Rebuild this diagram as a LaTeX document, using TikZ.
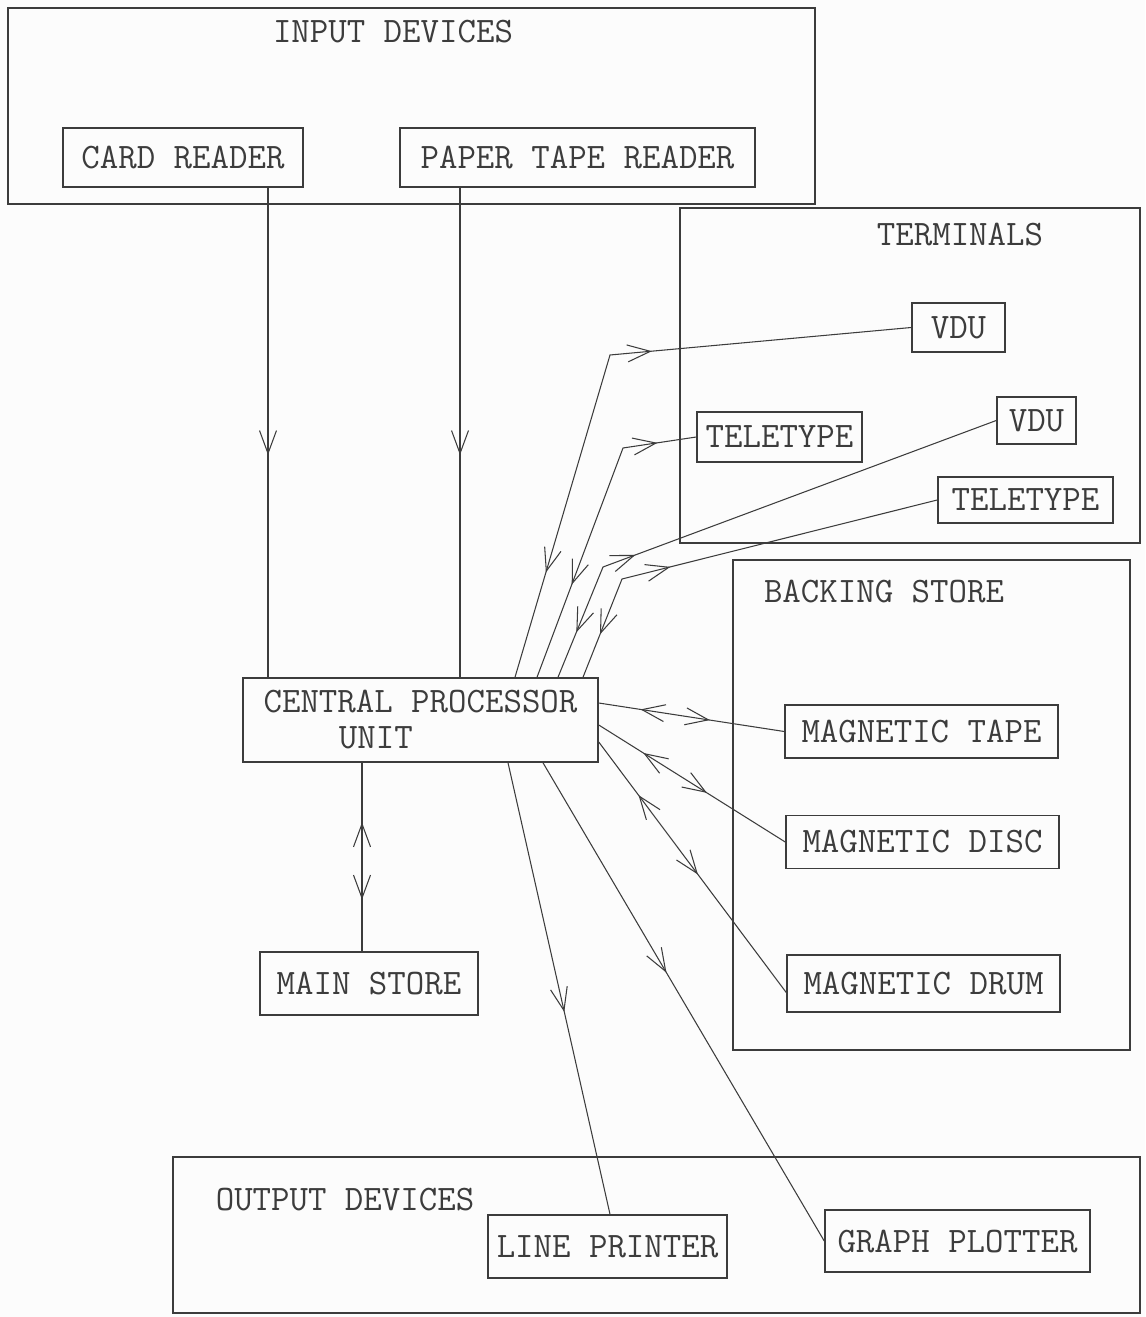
\documentclass[tikz,border=0pt]{standalone}
\usepackage{fontspec}
\usepackage{tikz}
\usetikzlibrary{arrows.meta,decorations.markings}

\definecolor{ink}{HTML}{3C3C3C}
\definecolor{paper}{HTML}{FCFCFC}
\newcommand{\typed}{\fontsize{20.4}{20.5}\selectfont\ttfamily}

\tikzset{
  openv/.tip={Straight Barb[length=0.46cm,width=0.34cm]},
  unit/.style={draw=ink,line width=0.9pt,text=ink,font=\typed,inner sep=0pt},
  group/.style={draw=ink,line width=0.9pt},
  title/.style={text=ink,font=\typed,inner sep=0pt},
  link/.style={draw=ink,line width=0.6pt},
  fwd/.style={postaction={decorate,decoration={markings,
    mark=at position #1 with {\arrow{openv}}}}},
  bwd/.style={postaction={decorate,decoration={markings,
    mark=at position #1 with {\arrowreversed{openv}}}}},
}

\begin{document}
\begin{tikzpicture}[x=0.02cm,y=-0.02cm]
  \fill[paper] (0,0) rectangle (1145,1317);
  \useasboundingbox (0,0) rectangle (1145,1317);

  % group frames
  \draw[group] (8,8) rectangle (815,204);
  \draw[group] (680,208) rectangle (1140,543);
  \draw[group] (733,560) rectangle (1130,1050);
  \draw[group] (173,1157) rectangle (1140,1313);
  \node[title] (inlbl) at (393,32) {INPUT DEVICES};
  \node[title] (termlbl) at (960,235) {TERMINALS};
  \node[title] (backlbl) at (884,592) {BACKING STORE};
  \node[title] (outlbl) at (345,1200) {OUTPUT DEVICES};

  % units
  \node[unit,minimum width=4.8cm,minimum height=1.18cm] (cardrdr) at (183,157.5) {CARD READER};
  \node[unit,minimum width=7.1cm,minimum height=1.18cm] (ptrdr) at (577.5,157.5) {PAPER TAPE READER};
  \node[unit,minimum width=1.86cm,minimum height=0.98cm] (vdua) at (958.5,327.5) {VDU};
  \node[unit,minimum width=3.3cm,minimum height=1.0cm] (ttya) at (779.5,437) {TELETYPE};
  \node[unit,minimum width=1.58cm,minimum height=0.94cm] (vdub) at (1036.5,420.5) {VDU};
  \node[unit,minimum width=3.5cm,minimum height=0.92cm] (ttyb) at (1025.5,500) {TELETYPE};
  \node[unit,minimum width=5.46cm,minimum height=1.06cm] (magtape) at (921.5,731.5) {MAGNETIC TAPE};
  \node[unit,minimum width=5.46cm,minimum height=1.06cm] (magdisc) at (922.5,842) {MAGNETIC DISC};
  \node[unit,minimum width=5.46cm,minimum height=1.14cm] (magdrum) at (923.5,983.5) {MAGNETIC DRUM};
  \node[unit,minimum width=7.1cm,minimum height=1.68cm,align=left] (cpu) at (420.5,720)
    {CENTRAL PROCESSOR\\\hspace*{2.1em}UNIT};
  \node[unit,minimum width=4.36cm,minimum height=1.26cm] (mainst) at (369,983.5) {MAIN STORE};
  \node[unit,minimum width=4.78cm,minimum height=1.26cm] (lineprt) at (607.5,1246.5) {LINE PRINTER};
  \node[unit,minimum width=5.3cm,minimum height=1.24cm] (graphplt) at (957.5,1241) {GRAPH PLOTTER};

  % bends of the terminal lines
  \coordinate (bnda) at (610,355);
  \coordinate (bndb) at (623,448);
  \coordinate (bndc) at (603,567);
  \coordinate (bndd) at (622,579);

  % input
  \draw[link,fwd=0.546] (268,0 |- cardrdr.south) -- (268,0 |- cpu.north);
  \draw[link,fwd=0.546] (460,0 |- ptrdr.south) -- (460,0 |- cpu.north);

  % main store
  \draw[link,fwd=0.726,bwd=0.316] (362,0 |- cpu.south) -- (362,0 |- mainst.north);

  % terminals
  \draw[link,bwd=0.171,fwd=0.592] (515,0 |- cpu.north) -- (bnda) -- (vdua.west);
  \draw[link,bwd=0.310,fwd=0.877] (537,0 |- cpu.north) -- (bndb) -- (ttya.west);
  \draw[link,bwd=0.090,fwd=0.285] (558,0 |- cpu.north) -- (bndc) -- (vdub.west);
  \draw[link,bwd=0.107,fwd=0.361] (583,0 |- cpu.north) -- (bndd) -- (ttyb.west);

  % backing store
  \draw[link,bwd=0.225,fwd=0.599] (cpu.east |- 0,703) -- (magtape.west);
  \draw[link,bwd=0.239,fwd=0.580] (cpu.east |- 0,725) -- (magdisc.west);
  \draw[link,bwd=0.212,fwd=0.529] (cpu.east |- 0,742) -- ([yshift=-0.18cm]magdrum.west);

  % output
  \draw[link,fwd=0.552] (508,0 |- cpu.south) -- (610,0 |- lineprt.north);
  \draw[link,fwd=0.439] (543,0 |- cpu.south) -- (graphplt.west);
\end{tikzpicture}
\end{document}
